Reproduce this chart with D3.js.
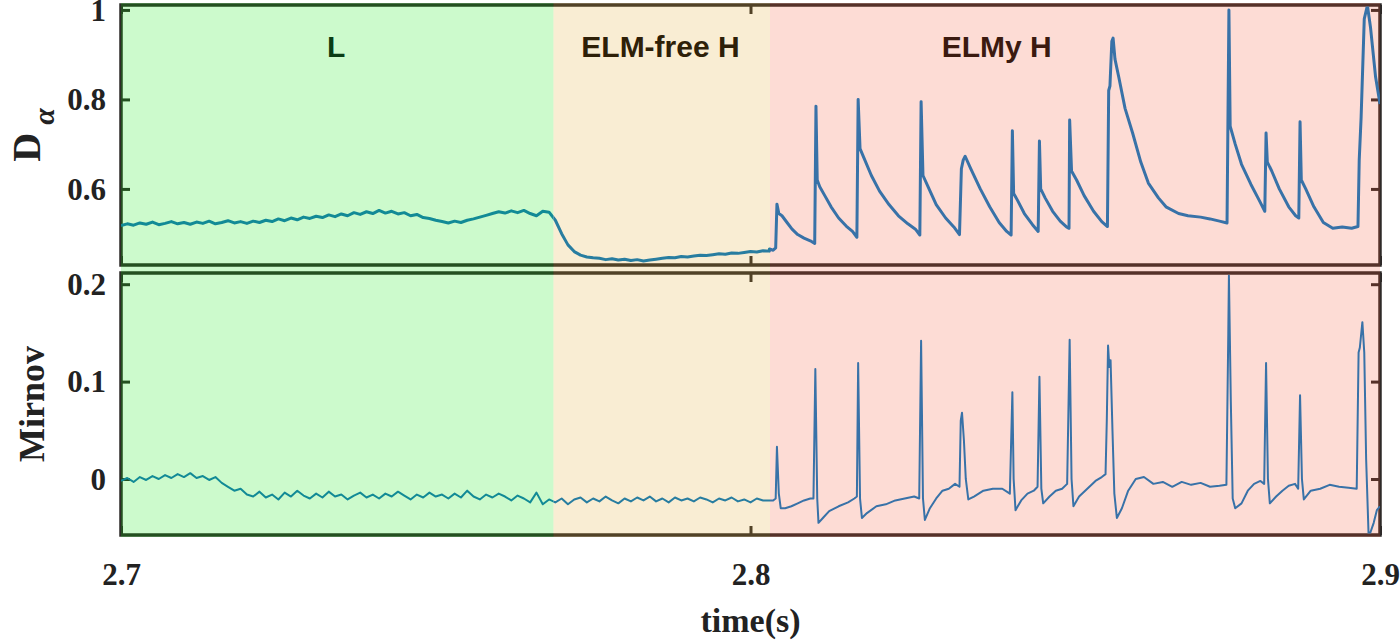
<!DOCTYPE html>
<html><head><meta charset="utf-8">
<script src="https://cdn.jsdelivr.net/npm/d3@7"></script>
<style>body{margin:0;background:#fff}svg{display:block}</style>
</head><body>
<script>
// ---- data ----
const xTicks = [2.7, 2.8, 2.9];
const daTicks = [0.6, 0.8, 1];
const mirTicks = [0, 0.1, 0.2];
const regions = [
  {name:"L", start:2.7, end:2.7687, labelAt:2.7342, color:"rgb(0,230,0)", text:"#0a3c14", line:"rgb(18,138,150)"},
  {name:"ELM-free H", start:2.7687, end:2.8031, labelAt:2.7857, color:"rgb(225,165,35)", text:"#2e2008", line:"rgb(40,125,160)"},
  {name:"ELMy H", start:2.8031, end:2.9, labelAt:2.8391, color:"rgb(245,80,45)", text:"#3b1a10", line:"rgb(56,114,168)"}
];
const daGreen = [0.518,0.522,0.519,0.524,0.521,0.526,0.520,0.523,0.527,0.522,
0.525,0.521,0.526,0.523,0.528,0.522,0.525,0.529,0.524,0.527,
0.523,0.528,0.525,0.530,0.527,0.533,0.529,0.535,0.531,0.537,
0.534,0.539,0.536,0.542,0.538,0.544,0.540,0.547,0.543,0.549,
0.545,0.552,0.546,0.550,0.544,0.547,0.540,0.543,0.536,0.534,
0.530,0.527,0.524,0.528,0.525,0.530,0.533,0.537,0.541,0.545,
0.549,0.546,0.551,0.547,0.552,0.545,0.540,0.550,0.548,
0.530,0.500,0.475,0.460,0.452,0.448,0.446,
0.445,0.442,0.444,0.441,0.443,0.440,0.442,0.439,0.441,0.443,
0.445,0.447,0.446,0.449,0.448,0.450,0.452,0.451,0.453,0.455,
0.454,0.457,0.456,0.458,0.460,0.459,0.462,0.461];
const daElmy = [[2.8030,0.466],[2.8036,0.463],[2.8040,0.468],[2.8042,0.566],[2.8045,0.545],[2.8050,0.54],[2.8058,0.525],[2.8066,0.51],[2.8075,0.498],[2.8085,0.49],[2.8095,0.484],[2.8102,0.478],
[2.8104,0.785],[2.8106,0.62],[2.8110,0.605],[2.8118,0.585],[2.8128,0.56],[2.8140,0.535],[2.8152,0.517],[2.8162,0.505],[2.8169,0.492],
[2.8171,0.80],[2.8174,0.69],[2.8180,0.67],[2.8192,0.63],[2.8205,0.595],[2.8220,0.565],[2.8235,0.54],[2.8250,0.522],[2.8262,0.51],[2.8269,0.497],
[2.8271,0.795],[2.8274,0.63],[2.8282,0.605],[2.8295,0.565],[2.8310,0.535],[2.8323,0.515],[2.8332,0.498],
[2.8335,0.645],[2.8338,0.665],[2.8341,0.673],[2.8350,0.645],[2.8365,0.6],[2.8380,0.56],[2.8395,0.525],[2.8407,0.505],[2.8414,0.497],
[2.8416,0.73],[2.8418,0.59],[2.8424,0.575],[2.8435,0.545],[2.8448,0.52],[2.8457,0.505],
[2.8459,0.707],[2.8461,0.6],[2.8468,0.58],[2.8480,0.55],[2.8492,0.528],[2.8502,0.515],[2.8506,0.512],
[2.8507,0.754],[2.8510,0.64],[2.8518,0.62],[2.8530,0.585],[2.8545,0.55],[2.8558,0.527],[2.8567,0.516],
[2.8569,0.82],[2.8571,0.83],[2.8574,0.93],[2.8576,0.937],[2.8579,0.89],[2.8585,0.85],[2.8595,0.78],[2.8607,0.725],[2.8620,0.66],[2.8632,0.613],[2.8648,0.58],[2.8660,0.56],[2.8680,0.545],[2.8695,0.54],[2.8715,0.537],[2.8730,0.533],[2.8745,0.528],[2.8757,0.524],
[2.8760,1.0],[2.8762,0.74],[2.8770,0.70],[2.8780,0.655],[2.8795,0.61],[2.8808,0.575],[2.8817,0.55],
[2.8819,0.725],[2.8821,0.66],[2.8828,0.64],[2.8840,0.6],[2.8855,0.56],[2.8866,0.54],[2.8871,0.535],
[2.8873,0.75],[2.8875,0.62],[2.8882,0.6],[2.8895,0.56],[2.8910,0.525],[2.8925,0.512],[2.8940,0.515],[2.8955,0.512],[2.8965,0.516],
[2.8967,0.665],[2.8970,0.76],[2.8975,0.98],[2.8980,1.01],[2.8985,0.96],[2.8993,0.85],[2.9000,0.79]];
const mirQuiet = [-0.002,0.001,-0.003,0.002,-0.001,0.003,0.000,0.004,0.001,0.005,0.002,0.006,0.001,
0.003,-0.001,0.002,-0.004,-0.008,-0.012,-0.010,-0.016,
-0.018,-0.013,-0.019,-0.016,-0.021,-0.014,-0.018,-0.012,-0.017,-0.020,
-0.015,-0.019,-0.013,-0.018,-0.016,-0.021,-0.017,-0.014,-0.019,-0.016,
-0.020,-0.015,-0.018,-0.013,-0.017,-0.021,-0.016,-0.019,-0.014,-0.018,
-0.016,-0.020,-0.015,-0.019,-0.012,-0.018,-0.021,-0.016,-0.019,-0.015,
-0.018,-0.022,-0.017,-0.020,-0.024,-0.014,-0.026,-0.021,
-0.024,-0.020,-0.026,-0.021,-0.019,-0.024,-0.020,-0.023,-0.018,-0.022,
-0.025,-0.020,-0.023,-0.019,-0.022,-0.018,-0.023,-0.020,-0.024,-0.019,
-0.022,-0.020,-0.023,-0.019,-0.021,-0.024,-0.020,-0.022,-0.019,-0.023,
-0.021,-0.024,-0.020,-0.022];
const mirElmy = [[2.8036,-0.022],[2.8040,-0.02],[2.8042,0.033],[2.8045,-0.015],[2.8048,-0.03],[2.8055,-0.03],[2.8065,-0.028],[2.8075,-0.025],[2.8085,-0.022],[2.8095,-0.02],[2.8100,-0.02],
[2.8103,0.113],[2.8106,-0.02],[2.8108,-0.045],[2.8115,-0.04],[2.8125,-0.033],[2.8140,-0.028],[2.8155,-0.024],[2.8165,-0.02],[2.8169,-0.018],
[2.8171,0.119],[2.8174,-0.02],[2.8177,-0.04],[2.8185,-0.035],[2.8200,-0.028],[2.8215,-0.026],[2.8230,-0.022],[2.8245,-0.02],[2.8260,-0.018],[2.8268,-0.02],
[2.8271,0.142],[2.8274,-0.02],[2.8277,-0.042],[2.8285,-0.03],[2.8295,-0.02],[2.8305,-0.012],[2.8315,-0.01],[2.8325,-0.005],[2.8332,-0.008],
[2.8334,0.06],[2.8336,0.068],[2.8339,0.04],[2.8342,0.0],[2.8346,-0.021],[2.8355,-0.018],[2.8370,-0.012],[2.8385,-0.01],[2.8400,-0.01],[2.8412,-0.015],
[2.8416,0.089],[2.8418,0.0],[2.8421,-0.032],[2.8430,-0.022],[2.8440,-0.015],[2.8450,-0.012],[2.8456,-0.008],
[2.8459,0.105],[2.8462,-0.01],[2.8465,-0.025],[2.8475,-0.018],[2.8485,-0.012],[2.8495,-0.01],[2.8503,-0.005],
[2.8507,0.143],[2.8510,0.0],[2.8513,-0.028],[2.8522,-0.018],[2.8535,-0.01],[2.8548,-0.002],[2.8558,0.002],[2.8564,0.005],
[2.8566,0.06],[2.8568,0.137],[2.8570,0.115],[2.8572,0.122],[2.8575,0.05],[2.8578,-0.015],[2.8582,-0.04],[2.8590,-0.03],[2.8600,-0.012],[2.8612,0.0],[2.8625,0.002],[2.8640,-0.005],[2.8655,-0.003],[2.8670,-0.008],[2.8685,-0.003],[2.8700,-0.006],[2.8715,-0.004],[2.8730,-0.008],[2.8745,-0.007],[2.8756,-0.006],
[2.8759,0.15],[2.8760,0.209],[2.8763,0.08],[2.8766,-0.02],[2.8770,-0.03],[2.8780,-0.025],[2.8790,-0.012],[2.8800,-0.005],[2.8810,-0.002],[2.8816,-0.005],
[2.8819,0.119],[2.8822,0.0],[2.8825,-0.025],[2.8835,-0.018],[2.8845,-0.012],[2.8855,-0.007],[2.8865,-0.005],[2.8870,-0.01],
[2.8873,0.086],[2.8876,0.0],[2.8879,-0.021],[2.8890,-0.012],[2.8905,-0.01],[2.8920,-0.006],[2.8935,-0.008],[2.8950,-0.009],[2.8963,-0.01],
[2.8966,0.13],[2.8968,0.135],[2.8972,0.161],[2.8975,0.13],[2.8978,0.02],[2.8982,-0.06],[2.8990,-0.045],[2.8995,-0.032],[2.9000,-0.028]];

const daSeries = daGreen.map((v,i)=>[2.7+i*0.001, v]).concat(daElmy);
const mirSeries = mirQuiet.map((v,i)=>[2.7+i*0.001, v]).concat(mirElmy);

// ---- layout ----
const W=1400,H=640, L=121, R=1380;
const top1=5, bot1=265, top2=273, bot2=535;
const svg=d3.select("body").append("svg").attr("width",W).attr("height",H);
const x=d3.scaleLinear().domain([2.7,2.9]).range([L,R]);
const yDa=d3.scaleLinear().domain([0.43,1.011]).range([bot1,top1]);
const yMir=d3.scaleLinear().domain([-0.0575,0.2115]).range([bot2,top2]);
const frame="#2e2a28";
const tickFont="'Liberation Serif','Times New Roman',serif";
const gFrame=svg.append("g"), gOver=svg.append("g"), gLines=svg.append("g"), gText=svg.append("g");

function panel(y, ticks, series, y0, y1, sw, id){
  gFrame.append("rect").attr("x",L).attr("y",y0).attr("width",R-L).attr("height",y1-y0).attr("fill","#fff");
  const gl=gFrame.append("g").attr("transform",`translate(${L},0)`).call(d3.axisRight(y).tickValues(ticks).tickSize(9).tickFormat(""));
  const gr=gFrame.append("g").attr("transform",`translate(${R},0)`).call(d3.axisLeft(y).tickValues(ticks).tickSize(9).tickFormat(""));
  const gb=gFrame.append("g").attr("transform",`translate(0,${y1})`).call(d3.axisTop(x).tickValues(xTicks).tickSize(9).tickFormat(""));
  const gt=gFrame.append("g").attr("transform",`translate(0,${y0})`).call(d3.axisBottom(x).tickValues(xTicks).tickSize(9).tickFormat(""));
  [gl,gr,gb,gt].forEach(g=>{g.select(".domain").remove();g.selectAll("line").attr("stroke",frame).attr("stroke-width",3);});
  gFrame.append("rect").attr("x",L).attr("y",y0).attr("width",R-L).attr("height",y1-y0)
    .attr("fill","none").attr("stroke",frame).attr("stroke-width",3.5);
  // line, coloured per region
  regions.forEach((r,i)=>{
    const cid=id+"_"+i;
    svg.append("clipPath").attr("id",cid).append("rect").attr("x",x(r.start)).attr("y",y0+1.5)
      .attr("width",x(r.end)-x(r.start)).attr("height",y1-y0-3);
    gLines.append("path").datum(series).attr("clip-path",`url(#${cid})`)
      .attr("d",d3.line().x(d=>x(d[0])).y(d=>y(d[1])))
      .attr("fill","none").attr("stroke",r.line).attr("stroke-width",sw).attr("stroke-linejoin","round");
  });
  gText.append("g").attr("transform",`translate(${L-12},0)`).call(d3.axisLeft(y).tickValues(ticks).tickSize(0).tickFormat(d=>String(d)))
    .call(g=>{g.select(".domain").remove();g.selectAll("text").attr("font-family",tickFont).attr("font-weight","bold").attr("font-size",31).attr("fill","#222").attr("dy","0.33em");});
}
panel(yDa, daTicks, daSeries, top1, bot1, 3, "c1");
panel(yMir, mirTicks, mirSeries, top2, bot2, 2, "c2");

// translucent region overlays over both panels (tints frame too)
regions.forEach(r=>{
  gOver.append("rect").attr("x",x(r.start)).attr("y",top1-2).attr("width",x(r.end)-x(r.start)).attr("height",bot2-top1+4)
    .attr("fill",r.color).attr("opacity",0.2);
});

// x tick labels
gText.append("g").attr("transform",`translate(0,${bot2})`).call(d3.axisBottom(x).tickValues(xTicks).tickSize(0).tickFormat(d3.format(".1f")))
  .call(g=>{g.select(".domain").remove();g.selectAll("text").attr("font-family",tickFont).attr("font-weight","bold").attr("font-size",31).attr("fill","#222").attr("y",50).attr("dy",0);});
gText.append("text").attr("x",x(2.8)).attr("y",632).attr("text-anchor","middle").attr("font-family",tickFont)
  .attr("font-weight","bold").attr("font-size",34).attr("fill","#222").text("time(s)");

// region labels
regions.forEach(r=>{
  gText.append("text").attr("x",x(r.labelAt)).attr("y",57).attr("text-anchor","middle")
    .attr("font-family","'Liberation Sans',Arial,sans-serif").attr("font-weight","bold").attr("font-size",30)
    .attr("fill",r.text).text(r.name);
});

// y labels
const yl=gText.append("text").attr("transform",`translate(40,${(top1+bot1)/2}) rotate(-90)`).attr("text-anchor","middle")
  .attr("font-family",tickFont).attr("font-weight","bold").attr("font-size",40).attr("fill","#222");
yl.append("tspan").text("D");
yl.append("tspan").attr("dx",8).attr("dy",14).attr("font-style","italic").attr("font-size",30).text("α");
gText.append("text").attr("transform",`translate(44,${(top2+bot2)/2}) rotate(-90)`).attr("text-anchor","middle")
  .attr("font-family",tickFont).attr("font-weight","bold").attr("font-size",36).attr("fill","#222").text("Mirnov");
</script>
</body></html>
